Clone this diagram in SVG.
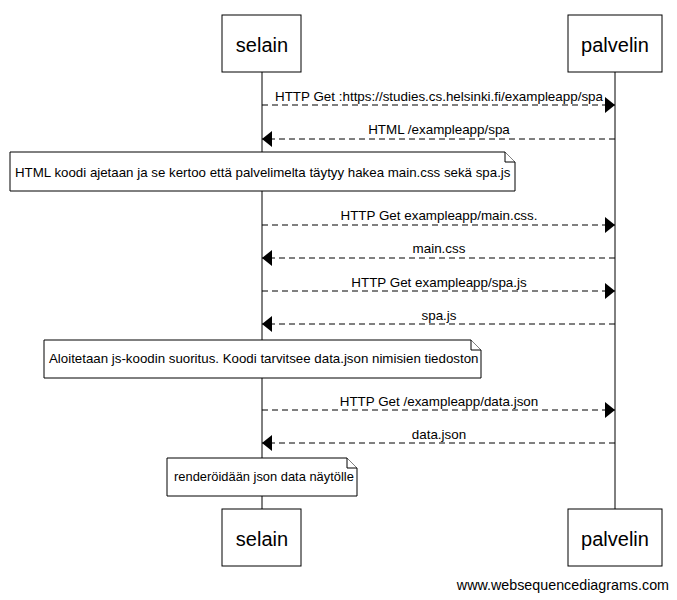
<svg xmlns="http://www.w3.org/2000/svg" width="677" height="600" viewBox="0 0 677 600">
  <style>
    .box { fill: #fff; stroke: #000; stroke-width: 1; }
    .life { stroke: #000; stroke-width: 1; }
    .msg { stroke: #000; stroke-width: 1; stroke-dasharray: 6,4; fill: none; }
    .actor { font-family: "Liberation Sans", Arial, sans-serif; font-size: 20px; text-anchor: middle; fill: #000; }
    .lbl { font-family: "Liberation Sans", Arial, sans-serif; font-size: 13.4px; text-anchor: middle; fill: #000; }
    .note { fill: #fff; stroke: #000; stroke-width: 1; }
    .ntxt { font-family: "Liberation Sans", Arial, sans-serif; font-size: 13.3px; fill: #000; }
    .wm { font-family: "Liberation Sans", Arial, sans-serif; font-size: 14.3px; fill: #000; }
  </style>
  <defs>
    <marker id="head" viewBox="0 0 10 16" refX="10" refY="8" markerWidth="10" markerHeight="16" markerUnits="userSpaceOnUse" orient="auto">
      <path d="M0,0 L10,8 L0,16 Z" fill="#000"/>
    </marker>
  </defs>

  <!-- lifelines -->
  <g id="lifelines">
    <line class="life" x1="262" y1="72" x2="262" y2="509"/>
    <line class="life" x1="615" y1="72" x2="615" y2="509"/>
  </g>

  <!-- messages -->
  <g id="connectors">
    <line class="msg" x1="262" y1="105" x2="615" y2="105" marker-end="url(#head)"/>
    <text class="lbl" x="439" y="101">HTTP Get :https://studies.cs.helsinki.fi/exampleapp/spa</text>
    <line class="msg" x1="615" y1="139" x2="262" y2="139" marker-end="url(#head)"/>
    <text class="lbl" x="439" y="134">HTML /exampleapp/spa</text>

    <line class="msg" x1="262" y1="225" x2="615" y2="225" marker-end="url(#head)"/>
    <text class="lbl" x="439" y="220">HTTP Get exampleapp/main.css.</text>
    <line class="msg" x1="615" y1="258" x2="262" y2="258" marker-end="url(#head)"/>
    <text class="lbl" x="439" y="253">main.css</text>
    <line class="msg" x1="262" y1="291" x2="615" y2="291" marker-end="url(#head)"/>
    <text class="lbl" x="439" y="287">HTTP Get exampleapp/spa.js</text>
    <line class="msg" x1="615" y1="324" x2="262" y2="324" marker-end="url(#head)"/>
    <text class="lbl" x="439" y="320">spa.js</text>

    <line class="msg" x1="262" y1="410" x2="615" y2="410" marker-end="url(#head)"/>
    <text class="lbl" x="439" y="406">HTTP Get /exampleapp/data.json</text>
    <line class="msg" x1="615" y1="443" x2="262" y2="443" marker-end="url(#head)"/>
    <text class="lbl" x="439" y="439">data.json</text>
  </g>

  <!-- notes -->
  <g id="note1">
    <path class="note" d="M10,152 H505 L515,162 V191 H10 Z"/>
    <path class="note" d="M505,152 V162 H515"/>
    <text class="ntxt" x="15" y="177">HTML koodi ajetaan ja se kertoo että palvelimelta täytyy hakea main.css sekä spa.js</text>
  </g>
  <g id="note2">
    <path class="note" d="M44,340 H471 L481,350 V378 H44 Z"/>
    <path class="note" d="M471,340 V350 H481"/>
    <text class="ntxt" x="49" y="363">Aloitetaan js-koodin suoritus. Koodi tarvitsee data.json nimisien tiedoston</text>
  </g>
  <g id="note3">
    <path class="note" d="M167,458 H347 L357,468 V496 H167 Z"/>
    <path class="note" d="M347,458 V468 H357"/>
    <text class="ntxt" x="174" y="481" style="font-size:12.9px">renderöidään json data näytölle</text>
  </g>

  <!-- participants -->
  <g id="selain-top">
    <rect class="box" x="222" y="15" width="79" height="57"/>
    <text class="actor" x="262" y="52">selain</text>
  </g>
  <g id="palvelin-top">
    <rect class="box" x="568" y="15" width="94" height="57"/>
    <text class="actor" x="615" y="52">palvelin</text>
  </g>
  <g id="selain-bottom">
    <rect class="box" x="222" y="509" width="79" height="57"/>
    <text class="actor" x="262" y="546">selain</text>
  </g>
  <g id="palvelin-bottom">
    <rect class="box" x="568" y="509" width="94" height="57"/>
    <text class="actor" x="615" y="546">palvelin</text>
  </g>

  <text class="wm" x="669" y="590" text-anchor="end">www.websequencediagrams.com</text>
</svg>
